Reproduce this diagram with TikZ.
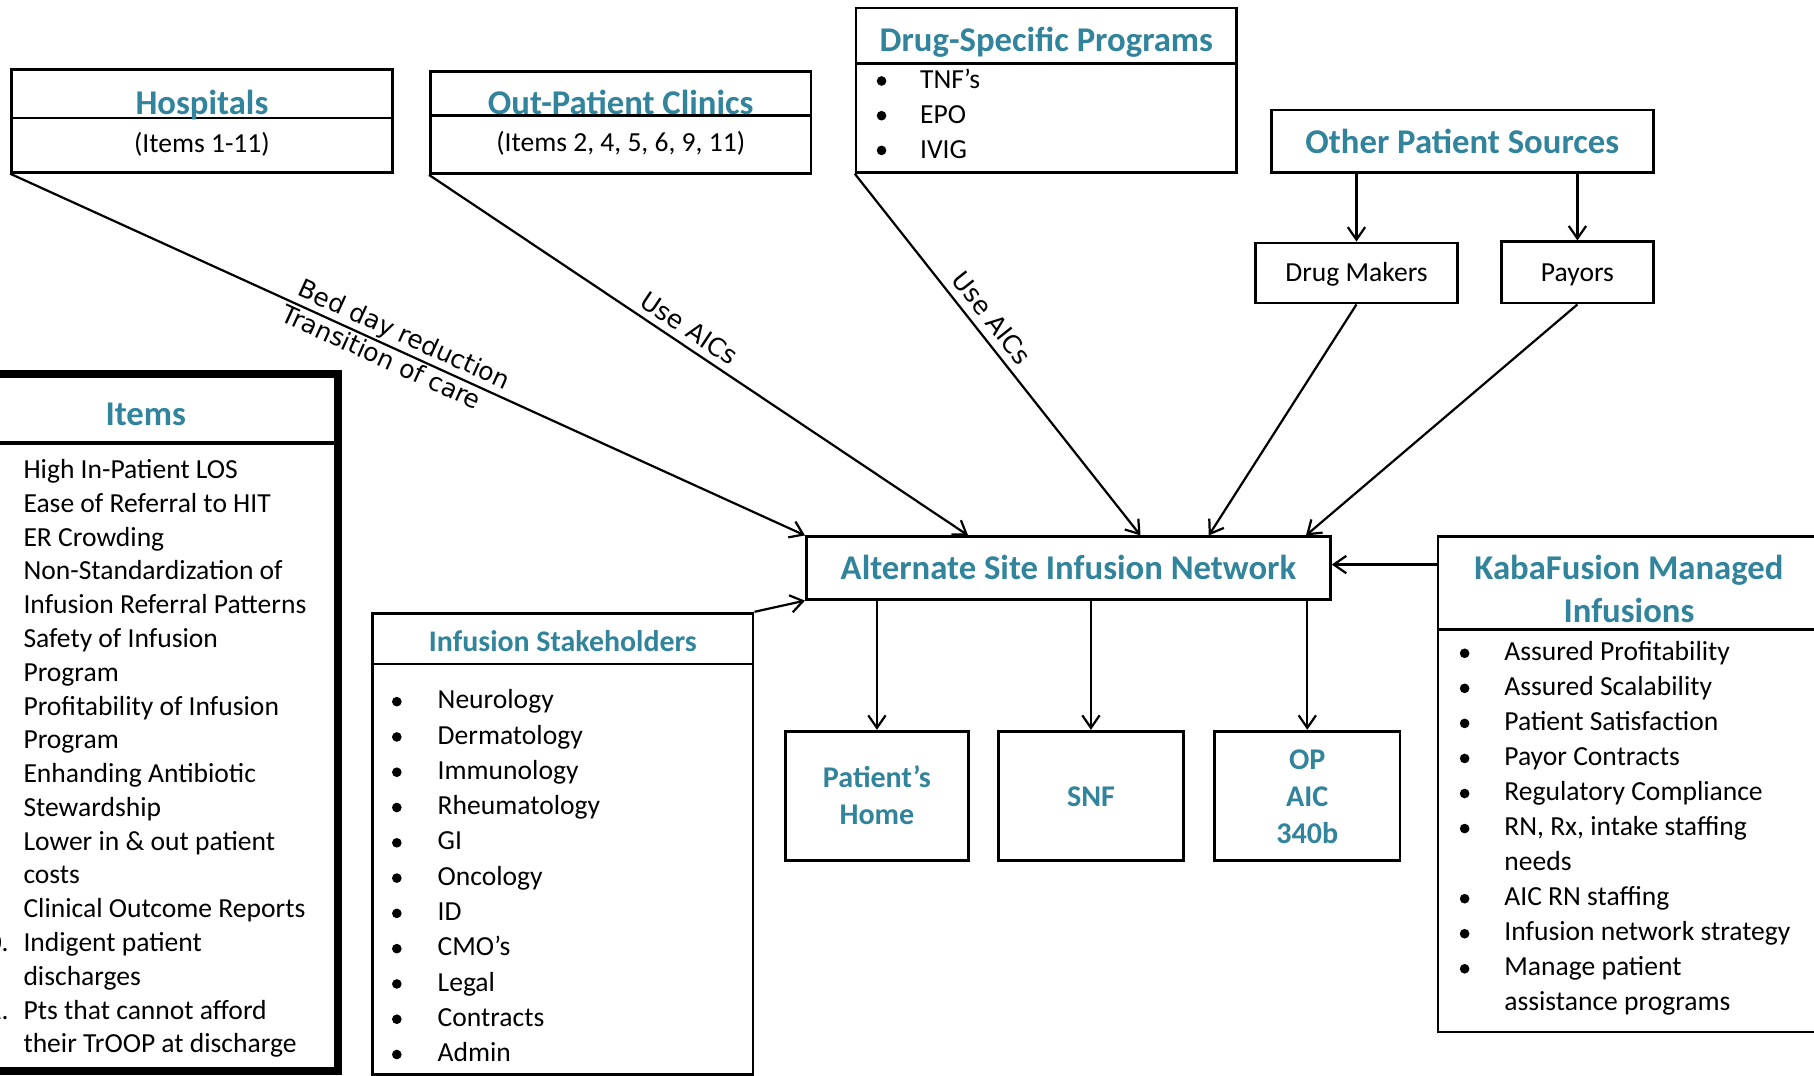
\documentclass[tikz,border=0pt]{standalone}
\usepackage{fontspec}
\setmainfont{Carlito}
\newfontfamily\lblfont{DejaVu Sans}
\usetikzlibrary{arrows.meta,fit,calc}
\definecolor{headc}{HTML}{31849B}
\begin{document}
\begin{tikzpicture}[x=0.6pt,y=-0.6pt,
  box/.style={draw, line width=1.4pt, inner sep=0pt},
  conn/.style={line width=1.15pt, -{Straight Barb[length=6.5pt,width=9pt]}},
  head/.style={font=\bfseries\fontsize{18}{22}\selectfont, text=headc, inner sep=0pt, anchor=base},
  shead/.style={font=\bfseries\fontsize{15.5}{19}\selectfont, text=headc, inner sep=0pt, anchor=base},
  txt/.style={font=\fontsize{14.3}{17.5}\selectfont, inner sep=0pt, anchor=base west},
  ctxt/.style={font=\fontsize{14.3}{17.5}\selectfont, inner sep=0pt, anchor=base},
  dest/.style={font=\bfseries\fontsize{15.6}{19}\selectfont, text=headc, inner sep=0pt, anchor=base},
  lbl/.style={font=\lblfont\fontsize{13}{15}\selectfont, sloped, inner sep=1pt},
  dot/.style={circle, fill, inner sep=0pt, minimum size=5pt}
]
\useasboundingbox (0,0) rectangle (1568,930);
\clip (0,0) rectangle (1568,930);
\fill[white] (0,0) rectangle (1568,930);

% Hospitals
\node[box, fit={(10,60) (339,149)}] (hosp) {};
\draw[line width=1.4pt] (10,102) -- (339,102);
\node[head] (hospT) at (174.5,99) {Hospitals};
\node[ctxt] (hospS) at (174.5,131.7) {(Items 1-11)};

% Out-Patient Clinics
\node[box, fit={(372,62) (701,150)}] (opc) {};
\draw[line width=1.4pt] (372,100) -- (701,100);
\node[head] (opcT) at (536.5,98.7) {Out-Patient Clinics};
\node[ctxt] (opcS) at (536.5,130.7) {(Items 2, 4, 5, 6, 9, 11)};

% Drug-Specific Programs
\node[box, fit={(740,7) (1069,149)}] (dsp) {};
\draw[line width=1.4pt] (740,55) -- (1069,55);
\node[head] (dspT) at (904.5,44.7) {Drug-Specific Programs};
\foreach \t [count=\i from 0] in {TNF’s,EPO,IVIG} {
  \node[dot] (dspb\i) at (762,{70+\i*30}) {};
  \node[txt] (dspt\i) at (795,{76.7+\i*30}) {\t};
}

% Other Patient Sources
\node[box, fit={(1099,95) (1429,149)}] (ops) {};
\node[head] (opsT) at (1264,132.7) {Other Patient Sources};
\node[box, fit={(1085,210) (1260,262)}] (dm) {};
\node[ctxt] (dmT) at (1172.5,243.7) {Drug Makers};
\node[box, fit={(1298,209) (1429,262)}] (pay) {};
\node[ctxt] (payT) at (1363.5,243.7) {Payors};

% Items
\node[draw, line width=4pt, inner sep=0pt, fit={(-40,323) (292,926)}] (items) {};
\draw[line width=2.2pt] (-40,383) -- (292,383);
\node[head] (itemsT) at (126,367.7) {Items};
\foreach \t [count=\i from 0] in {High In-Patient LOS,Ease of Referral to HIT,ER Crowding,Non-Standardization of,Infusion Referral Patterns,Safety of Infusion,Program,Profitability of Infusion,Program,Enhanding Antibiotic,Stewardship,Lower in \& out patient,costs,Clinical Outcome Reports,Indigent patient,discharges,Pts that cannot afford,their TrOOP at discharge} {
  \node[txt] (it\i) at (20,{413.7+\i*29.2}) {\t};
}
\foreach \n/\l in {10/14,11/16} {
  \node[txt] (num\n) at (-23,{413.7+\l*29.2}) {\n.};
}

% Infusion Stakeholders
\node[box, fit={(322,530) (651,929)}] (stake) {};
\draw[line width=1.4pt] (322,574) -- (651,574);
\node[shead] (stakeT) at (486.5,563.3) {Infusion Stakeholders};
\foreach \t [count=\i from 0] in {Neurology,Dermatology,Immunology,Rheumatology,GI,Oncology,ID,CMO’s,Legal,Contracts,Admin} {
  \node[dot] (stb\i) at (343,{606.5+\i*30.5}) {};
  \node[txt] (stt\i) at (378,{612.7+\i*30.5}) {\t};
}

% Network
\node[box, fit={(697,464) (1150,518)}] (net) {};
\node[head] (netT) at (923.5,500.7) {Alternate Site Infusion Network};

% Destinations
\node[box, fit={(679,632) (837,744)}] (ph) {};
\node[dest] (ph1) at (758,681) {Patient’s};
\node[dest] (ph2) at (758,713) {Home};
\node[box, fit={(863,632) (1023,744)}] (snf) {};
\node[dest] (snf1) at (943,697) {SNF};
\node[box, fit={(1050,632) (1210,744)}] (op) {};
\node[dest] (op1) at (1130,665) {OP};
\node[dest] (op2) at (1130,697) {AIC};
\node[dest] (op3) at (1130,729) {340b};

% KabaFusion
\node[box, fit={(1243,464) (1573,892)}] (kaba) {};
\draw[line width=1.4pt] (1243,544) -- (1573,544);
\node[head] (kabaT1) at (1408,500.7) {KabaFusion Managed};
\node[head] (kabaT2) at (1408,537.7) {Infusions};
\foreach \t/\b [count=\i from 0] in {Assured Profitability/1,Assured Scalability/1,Patient Satisfaction/1,Payor Contracts/1,Regulatory Compliance/1,{RN, Rx, intake staffing}/1,needs/0,AIC RN staffing/1,Infusion network strategy/1,Manage patient/1,assistance programs/0} {
  \node[txt] (kt\i) at (1300,{570.7+\i*30.3}) {\t};
  \ifnum\b=1 \node[dot] (kb\i) at (1266,{564.7+\i*30.3}) {}; \fi
}

% Connectors
\draw[conn] (hosp.south west) -- (net.north west)
  node[lbl, above, pos=0.487] (l1) {Bed day reduction}
  node[lbl, below, pos=0.474] (l2) {Transition of care};
\draw[conn] (opc.south west) -- ($(net.north west)+(141,0)$)
  node[lbl, above=2.5pt, pos=0.465] (l3) {Use AICs};
\draw[conn] (dsp.south west) -- ($(net.north west)+(290,0)$)
  node[lbl, above=3pt, pos=0.43] (l4) {Use AICs};
\draw[conn] (dm.south) -- ($(net.north west)+(349,0)$);
\draw[conn] (pay.south) -- ($(net.north west)+(433,0)$);
\draw[conn] (dm.north |- ops.south) -- (dm.north);
\draw[conn] (pay.north |- ops.south) -- (pay.north);
\draw[conn] (kaba.west |- 0,488) -- (net.east |- 0,488);
\draw[conn] (stake.north east) -- (net.south west);
\draw[conn] (ph.north |- net.south) -- (ph.north);
\draw[conn] (snf.north |- net.south) -- (snf.north);
\draw[conn] (op.north |- net.south) -- (op.north);
\end{tikzpicture}
\end{document}
